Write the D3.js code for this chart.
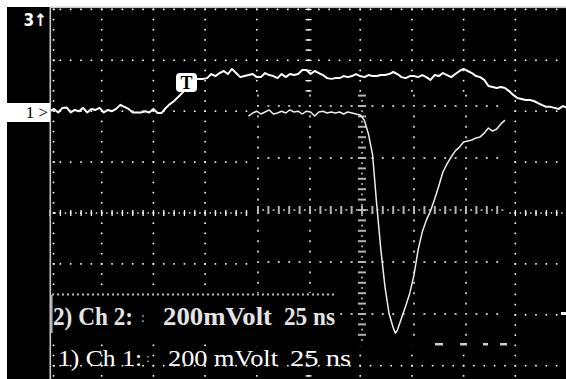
<!DOCTYPE html>
<html><head><meta charset="utf-8">
<script src="https://cdn.jsdelivr.net/npm/d3@7"></script>
<style>html,body{margin:0;padding:0;background:#fff;}svg{display:block;}</style>
</head><body>
<svg id="c" width="566" height="379"></svg>
<script>
// ---- data ----
const timeDivs = [0, 25, 50, 75, 100, 125, 150, 175, 200, 225, 250]; // ns, 25 ns/div
const voltDivs = [-800, -600, -400, -200, 0, 200, 400, 600, 800];    // mV, 200 mV/div
const ch1Ground = 400;  // mV on screen where channel 1 zero sits
const ch2Ground = 400;
// channel 1: [time ns, mV]
const ch1Trace = [[0,0],[2,9],[4,-5],[6,13],[8,15],[10,-5],[12,5],[14,0],[16,13],[18,-5],[20,9],[22,5],[24,13],[26,-5],[28,5],[30,0],[32,9],[34,25],[36,17],[38,9],[40,-5],[42,-5],[44,-5],[46,0],[48,-5],[50,9],[52,-7],[54,-7],[56,13],[58,28],[60,40],[62,56],[64,72],[66,95],[68,115],[70,127],[72,127],[74,127],[76,130],[78,146],[80,138],[82,150],[84,158],[86,146],[88,166],[90,150],[92,134],[94,138],[96,142],[98,146],[100,134],[102,134],[104,150],[106,142],[108,138],[110,130],[112,146],[114,134],[116,146],[118,142],[120,146],[122,162],[124,162],[126,146],[128,158],[130,150],[132,142],[134,130],[136,127],[138,130],[140,130],[142,138],[144,134],[146,138],[148,146],[150,138],[152,134],[154,142],[156,138],[158,138],[160,142],[162,142],[164,146],[166,154],[168,146],[170,134],[172,130],[174,138],[176,138],[178,134],[180,142],[182,134],[184,123],[186,142],[188,138],[190,150],[192,142],[194,134],[196,146],[198,158],[200,166],[202,158],[204,150],[206,138],[208,134],[210,123],[212,99],[214,95],[216,91],[218,95],[220,91],[222,79],[224,64],[226,52],[228,48],[230,44],[232,44],[234,40],[236,32],[238,24],[240,17],[242,17],[244,13],[246,9],[248,20],[250,13]];
// channel 2: [time ns, mV]
const ch2Trace = [[96,-19],[98,-7],[100,0],[102,-11],[104,-3],[106,5],[108,-11],[110,-7],[112,0],[114,-7],[116,5],[118,-3],[120,0],[122,-11],[124,0],[126,-3],[128,-19],[130,-3],[132,0],[134,-7],[136,-3],[138,-7],[140,-3],[142,-11],[144,-3],[146,-7],[148,-11],[150,-15],[152,-35],[154,-90],[156,-172],[158,-368],[160,-545],[162,-691],[164,-797],[166,-852],[167,-872],[168,-860],[170,-813],[172,-765],[174,-714],[176,-644],[178,-545],[180,-475],[182,-428],[184,-392],[186,-345],[188,-294],[190,-239],[192,-207],[194,-180],[196,-156],[198,-141],[200,-121],[202,-117],[204,-113],[206,-105],[208,-101],[210,-86],[212,-66],[214,-78],[216,-70],[218,-50],[220,-35]];
const ch1Label = ["1) Ch 1:", "200 mVolt", "25 ns"];
const ch2Label = ["2) Ch 2:", "200mVolt", "25 ns"];
const topMarker = "3\u2191";
const groundMarker = "1 >";
const triggerMarker = "T";

// ---- drawing ----
const SERIF = "'Liberation Serif', 'Times New Roman', Times, serif";
const svg = d3.select("#c");
const W = 566, H = 379;
const x = d3.scaleLinear().domain([0, 250]).range([50, 567]);
const y = d3.scaleLinear().domain([-800, 800]).range([213 + 4 * 50.9, 213 - 4 * 50.9]);

svg.append("rect").attr("width", W).attr("height", H).attr("fill", "#fff");
svg.append("rect").attr("x", 7).attr("y", 7).attr("width", W - 7).attr("height", H - 7).attr("fill", "#000");

const g = svg.append("g");
function dot(px, py, s, col) {
  g.append("rect").attr("x", px - s / 2).attr("y", py - s / 2).attr("width", s).attr("height", s).attr("fill", col);
}
const minorT = d3.range(0, 251, 5);
const minorV = d3.range(-800, 801, 40);
// main grid
voltDivs.forEach(v => {
  const yy = y(v);
  if (yy < 7 || yy > H) return;
  minorT.forEach(t => dot(x(t) + (t === 0 ? 4 : 0), yy, 1.6, "#fff"));
});
timeDivs.forEach(t => {
  const xx = x(t) + (t === 0 ? 3.5 : 0);
  minorV.forEach(v => { const yy = y(v); if (yy > 8 && yy < H) dot(xx, yy, 1.6, "#fff"); });
});
// center lines with ticks
minorT.forEach(t => {
  g.append("rect").attr("x", x(t) - 0.6).attr("y", y(0) - 3).attr("width", 1.3).attr("height", 6).attr("fill", "#fff");
  if (t < 250) dot(x(t + 2.5), y(0), 1.4, "#fff");
});
minorV.forEach(v => {
  const yy = y(v); if (yy < 8 || yy > H) return;
  g.append("rect").attr("x", x(125) - 3).attr("y", yy - 0.6).attr("width", 6).attr("height", 1.3).attr("fill", "#fff");
});

// channel 2 inset screen
const inset = {x0: 248, x1: 507, y0: 95, y1: 346, cx: 362, cy: 210, div: 52};
g.append("rect").attr("x", inset.x0).attr("y", inset.y0).attr("width", inset.x1 - inset.x0).attr("height", inset.y1 - inset.y0).attr("fill", "#000");
const ic = "#b4b4b4", step = inset.div / 5;
for (let k = -2; k <= 2; k++) {
  const gy = inset.cy + k * inset.div;
  const gx = inset.cx + k * inset.div;
  for (let px = inset.cx - 22 * step; px <= inset.x1; px += step) if (px >= inset.x0 + 2) {
    if (k === 0) {
      g.append("rect").attr("x", px - 1).attr("y", gy - 4).attr("width", 2).attr("height", 8).attr("fill", ic);
      dot(px + step / 2, gy, 1.8, ic);
    } else dot(px, gy, 2, ic);
  }
  for (let py = inset.cy - 22 * step; py <= inset.y1 - 3; py += step) if (py >= inset.y0) {
    if (k === 0) {
      g.append("rect").attr("x", gx - 4).attr("y", py - 1).attr("width", 8).attr("height", 2).attr("fill", ic);
      dot(gx, py + step / 2, 1.8, ic);
    } else dot(gx, py, 2, ic);
  }
}
[[435, 443], [460, 467], [483, 488], [500, 507]].forEach(s =>
  g.append("rect").attr("x", s[0]).attr("y", 343).attr("width", s[1] - s[0]).attr("height", 2.5).attr("fill", "#ccc"));

// channel 2 label box
g.append("rect").attr("x", 51).attr("y", 293).attr("width", 289).attr("height", 44).attr("fill", "#000");
for (let px = 53; px <= 336; px += 5) dot(px, 294.5, 2, "#bbb");
g.append("rect").attr("x", 50).attr("y", 295).attr("width", 2.6).attr("height", 38).attr("fill", "#aaa");

// traces
const line = gnd => d3.line().x(d => x(d[0])).y(d => y(d[1] + gnd));
svg.append("path").datum(ch2Trace).attr("d", line(ch2Ground)).attr("fill", "none").attr("stroke", "#ececec").attr("stroke-width", 1.5).attr("stroke-linejoin", "round");
svg.append("path").datum(ch1Trace).attr("d", line(ch1Ground)).attr("fill", "none").attr("stroke", "#fff").attr("stroke-width", 2).attr("stroke-linejoin", "round");

// frame
svg.append("rect").attr("x", 49.5).attr("y", 7).attr("width", 1.6).attr("height", H - 7).attr("fill", "#c8c8c8");
svg.append("rect").attr("x", 50).attr("y", 6.5).attr("width", W - 50).attr("height", 1.6).attr("fill", "#c8c8c8");
svg.append("rect").attr("x", 561).attr("y", 312).attr("width", 5).attr("height", 3).attr("fill", "#fff");

// trigger marker
svg.append("rect").attr("x", 176).attr("y", 73).attr("width", 21).attr("height", 19).attr("rx", 4).attr("fill", "#fff");
svg.append("text").attr("x", 186.5).attr("y", 89).attr("text-anchor", "middle").attr("font-family", SERIF).attr("font-weight", "bold").attr("font-size", 18).attr("fill", "#000").text(triggerMarker);

// left markers
svg.append("rect").attr("x", 0).attr("y", 103).attr("width", 50).attr("height", 19).attr("fill", "#fff");
svg.append("text").attr("x", 48).attr("y", 118).attr("text-anchor", "end").attr("font-family", SERIF).attr("font-size", 17).attr("fill", "#000")
  .text(groundMarker);
svg.append("text").attr("x", 47).attr("y", 26).attr("text-anchor", "end").attr("font-family", "'DejaVu Sans Condensed', 'DejaVu Sans', sans-serif").attr("font-weight", "bold").attr("font-size", 17).attr("fill", "#fff")
  .text(topMarker);

// channel labels
const ch2Pos = [[53, 80], [163, 109], [284, 51]];
ch2Label.forEach((s, i) => svg.append("text").attr("x", ch2Pos[i][0]).attr("y", 325).attr("font-family", SERIF).attr("font-weight", "bold")
  .attr("font-size", 25).attr("fill", "#e4e4e4").attr("textLength", ch2Pos[i][1]).attr("lengthAdjust", "spacingAndGlyphs").text(s));
svg.append("text").attr("x", 141).attr("y", 322).attr("font-family", SERIF).attr("font-size", 14).attr("fill", "#bbb").text(":");
const ch1Pos = [[58, 84], [168, 110], [290, 61]];
ch1Label.forEach((s, i) => svg.append("text").attr("x", ch1Pos[i][0]).attr("y", 366).attr("font-family", SERIF)
  .attr("font-size", 24).attr("fill", "#fff").attr("textLength", ch1Pos[i][1]).attr("lengthAdjust", "spacingAndGlyphs").text(s));
svg.append("text").attr("x", 146).attr("y", 362).attr("font-family", SERIF).attr("font-size", 13).attr("fill", "#ccc").text(":");
</script>
</body></html>
